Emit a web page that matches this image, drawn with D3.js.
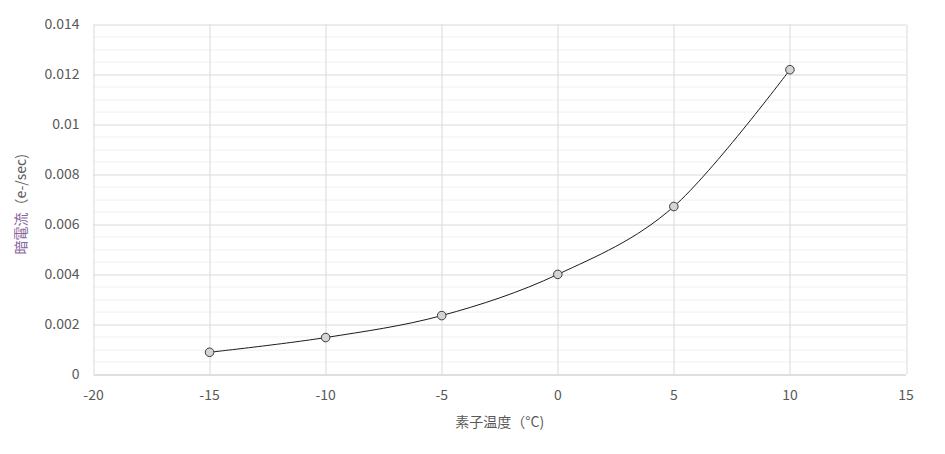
<!DOCTYPE html>
<html>
<head>
<meta charset="utf-8">
<script src="https://cdn.jsdelivr.net/npm/d3@7"></script>
<style>
  body { margin: 0; background: #fff; }
  svg { display: block; font-family: "Noto Sans CJK JP", "Noto Sans", sans-serif; }
</style>
</head>
<body>
<svg id="chart" width="945" height="454"></svg>
<script>
// data
const temps = [-15, -10, -5, 0, 5, 10];
const darkCurrent = [0.00087, 0.00146, 0.00234, 0.00399, 0.00671, 0.01219];
const xTicks = [-20, -15, -10, -5, 0, 5, 10, 15];
const yTicks = [0, 0.002, 0.004, 0.006, 0.008, 0.01, 0.012, 0.014];

const svg = d3.select("#chart");
const margin = { left: 93.5, right: 39, top: 24.5, bottom: 80 };
const width = 945 - margin.left - margin.right;
const height = 454 - margin.top - margin.bottom;

const g = svg.append("g").attr("transform", `translate(${margin.left},${margin.top})`);

const x = d3.scaleLinear().domain([-20, 15]).range([0, width]);
const y = d3.scaleLinear().domain([0, 0.014]).range([height, 0]);

// minor gridlines
g.append("g")
  .selectAll("line")
  .data(d3.range(0, 0.01401, 0.0005).filter((v, i) => i % 4 !== 0))
  .join("line")
  .attr("x1", 0).attr("x2", width)
  .attr("y1", (d) => Math.round(y(d)) + 0.5).attr("y2", (d) => Math.round(y(d)) + 0.5)
  .attr("stroke", "#f0f0f0");

// major gridlines
g.append("g")
  .selectAll("line")
  .data(yTicks.slice(1))
  .join("line")
  .attr("x1", 0).attr("x2", width)
  .attr("y1", (d) => Math.round(y(d)) + 0.5).attr("y2", (d) => Math.round(y(d)) + 0.5)
  .attr("stroke", "#d9d9d9");

g.append("g")
  .selectAll("line")
  .data(xTicks)
  .join("line")
  .attr("x1", (d) => Math.round(x(d)) + 0.5).attr("x2", (d) => Math.round(x(d)) + 0.5)
  .attr("y1", 0).attr("y2", height)
  .attr("stroke", "#d9d9d9");

// x axis line
g.append("line")
  .attr("x1", 0).attr("x2", width)
  .attr("y1", Math.round(height) + 0.5).attr("y2", Math.round(height) + 0.5)
  .attr("stroke", "#bfbfbf");

// tick labels
g.append("g")
  .selectAll("text")
  .data(yTicks)
  .join("text")
  .attr("x", -14)
  .attr("y", (d) => y(d))
  .attr("dy", "0.35em")
  .attr("text-anchor", "end")
  .attr("font-size", 14)
  .attr("fill", "#595959")
  .text((d) => String(d));

g.append("g")
  .selectAll("text")
  .data(xTicks)
  .join("text")
  .attr("x", (d) => x(d))
  .attr("y", height + 21)
  .attr("dy", "0.35em")
  .attr("text-anchor", "middle")
  .attr("font-size", 14)
  .attr("fill", "#595959")
  .text((d) => String(d));

// axis titles
svg.append("text")
  .attr("x", margin.left + width / 2)
  .attr("y", 422)
  .attr("dy", "0.35em")
  .attr("text-anchor", "middle")
  .attr("font-size", 14)
  .attr("fill", "#595959")
  .text("素子温度（°C)");

const yTitle = svg.append("text")
  .attr("transform", `translate(21,${margin.top + height / 2 + 5}) rotate(-90)`)
  .attr("dy", "0.35em")
  .attr("text-anchor", "middle")
  .attr("font-size", 14)
  .attr("fill", "#595959");
yTitle.append("tspan").attr("fill", "#86659a").text("暗電流");
yTitle.append("tspan").text("（e-/sec)");

// smoothed line
const points = temps.map((t, i) => [t, darkCurrent[i]]);
const line = d3.line()
  .x((d) => x(d[0]))
  .y((d) => y(d[1]))
  .curve(d3.curveCatmullRom.alpha(0));

g.append("path")
  .datum(points)
  .attr("d", line)
  .attr("fill", "none")
  .attr("stroke", "#1a1a1a")
  .attr("stroke-width", 1);

// markers
g.append("g")
  .selectAll("circle")
  .data(points)
  .join("circle")
  .attr("cx", (d) => x(d[0]))
  .attr("cy", (d) => y(d[1]))
  .attr("r", 4.3)
  .attr("fill", "#d4d4d4")
  .attr("stroke", "#3a3a3a")
  .attr("stroke-width", 1);
</script>
</body>
</html>
